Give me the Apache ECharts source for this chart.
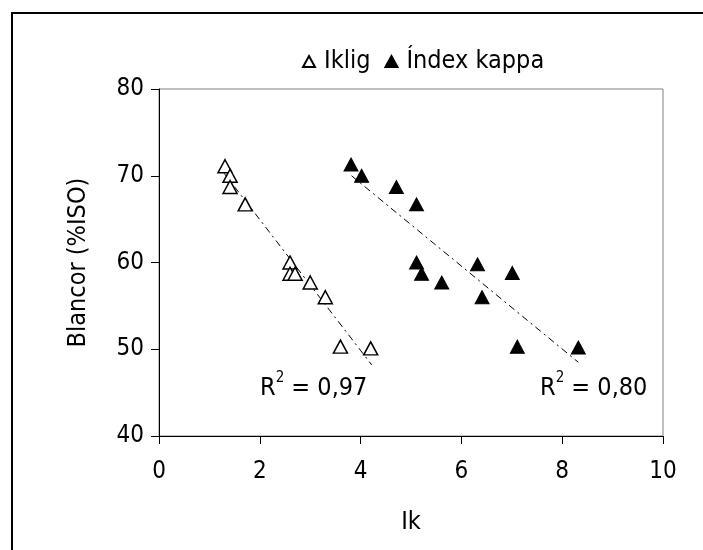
<!DOCTYPE html>
<html><head><meta charset="utf-8">
<script src="https://cdn.jsdelivr.net/npm/echarts@6/dist/echarts.min.js"></script>
<style>html,body{margin:0;padding:0;background:#fff}#c{width:703px;height:550px}</style>
</head><body><div id="c"></div>
<script>
const FONT = 'DejaVu Sans Condensed';
const xTicks = [0, 2, 4, 6, 8, 10];
const yTicks = [40, 50, 60, 70, 80];
const ikligX = [1.31, 1.41, 1.41, 1.71, 2.60, 2.60, 2.70, 3.00, 3.30, 3.60, 4.20];
const ikligY = [71.1, 70.0, 68.7, 66.7, 60.0, 58.7, 58.7, 57.7, 56.0, 50.3, 50.1];
const kappaX = [3.81, 4.02, 4.71, 5.11, 5.11, 5.21, 5.61, 6.32, 7.01, 6.41, 7.11, 8.32];
const kappaY = [71.3, 70.0, 68.7, 66.7, 60.0, 58.7, 57.7, 59.8, 58.8, 56.0, 50.3, 50.2];
const ikligTrendX = [1.29, 4.22];
const ikligTrendY = [70.3, 48.2];
const kappaTrendX = [3.82, 8.32];
const kappaTrendY = [70.0, 48.5];
const r2Labels = ['0,97', '0,80'];

const zip = (a, b) => a.map((v, i) => [v, b[i]]);
const chart = echarts.init(document.getElementById('c'), null, {renderer: 'canvas'});
const dash = [7, 4, 2, 4];
const r2Rich = {
  r: {fontSize: 25, fontFamily: FONT, lineHeight: 30, verticalAlign: 'bottom', fill: '#000'},
  s: {fontSize: 15, fontFamily: FONT, lineHeight: 30, verticalAlign: 'top', fill: '#000'}
};
chart.setOption({
  animation: false,
  backgroundColor: '#fff',
  textStyle: {fontFamily: FONT, color: '#000'},
  grid: {left: 159, right: 40, top: 89, bottom: 114, containLabel: false, outerBoundsMode: 'none',
         show: true, borderColor: '#808080', borderWidth: 1, backgroundColor: 'transparent'},
  legend: {
    top: 44, left: 297, itemGap: 14, itemWidth: 12, itemHeight: 11,
    textStyle: {fontFamily: FONT, fontSize: 25, color: '#000', padding: [0, 0, 0, 4]},
    data: [{name: 'Iklig', icon: 'triangle'}, {name: 'Índex kappa', icon: 'triangle'}]
  },
  xAxis: {
    type: 'value', min: xTicks[0], max: xTicks[xTicks.length - 1], interval: 2,
    name: 'Ik', nameLocation: 'middle', nameGap: 74,
    nameTextStyle: {fontFamily: FONT, fontSize: 25, color: '#000'},
    axisLine: {show: true, lineStyle: {color: '#000', width: 1}},
    axisTick: {show: true, inside: false, length: 8, lineStyle: {color: '#000'}},
    axisLabel: {fontFamily: FONT, fontSize: 24, color: '#000', margin: 24},
    splitLine: {show: false}
  },
  yAxis: {
    type: 'value', min: yTicks[0], max: yTicks[yTicks.length - 1], interval: 10,
    name: 'Blancor (%ISO)', nameLocation: 'middle', nameGap: 68, nameRotate: 90,
    nameTextStyle: {fontFamily: FONT, fontSize: 25, color: '#000'},
    axisLine: {show: true, lineStyle: {color: '#000', width: 1}},
    axisTick: {show: true, inside: false, length: 8, lineStyle: {color: '#000'}},
    axisLabel: {fontFamily: FONT, fontSize: 24, color: '#000', margin: 15},
    splitLine: {show: false}
  },
  series: [
    {name: 'Iklig', type: 'scatter', symbol: 'triangle', symbolSize: [14, 13],
     itemStyle: {color: '#fff', borderColor: '#000', borderWidth: 1.5, opacity: 1},
     data: zip(ikligX, ikligY), z: 3},
    {name: 'Índex kappa', type: 'scatter', symbol: 'triangle', symbolSize: [14, 13],
     itemStyle: {color: '#000', borderColor: '#000', borderWidth: 1, opacity: 1},
     data: zip(kappaX, kappaY), z: 3},
    {name: 'trend1', type: 'line', symbol: 'none', silent: true, z: 2,
     lineStyle: {color: '#000', width: 1, type: dash},
     data: zip(ikligTrendX, ikligTrendY)},
    {name: 'trend2', type: 'line', symbol: 'none', silent: true, z: 2,
     lineStyle: {color: '#000', width: 1, type: dash},
     data: zip(kappaTrendX, kappaTrendY)}
  ],
  graphic: [
    {type: 'rect', shape: {x: 12, y: 13, width: 800, height: 700},
     style: {fill: 'none', stroke: '#000', lineWidth: 2}, z: 100},
    {type: 'text', x: 260, y: 371, z: 100,
     style: {text: '{r|R}{s|2}{r| = ' + r2Labels[0] + '}', fontFamily: FONT, rich: r2Rich}},
    {type: 'text', x: 540, y: 371, z: 100,
     style: {text: '{r|R}{s|2}{r| = ' + r2Labels[1] + '}', fontFamily: FONT, rich: r2Rich}}
  ]
});
</script></body></html>
